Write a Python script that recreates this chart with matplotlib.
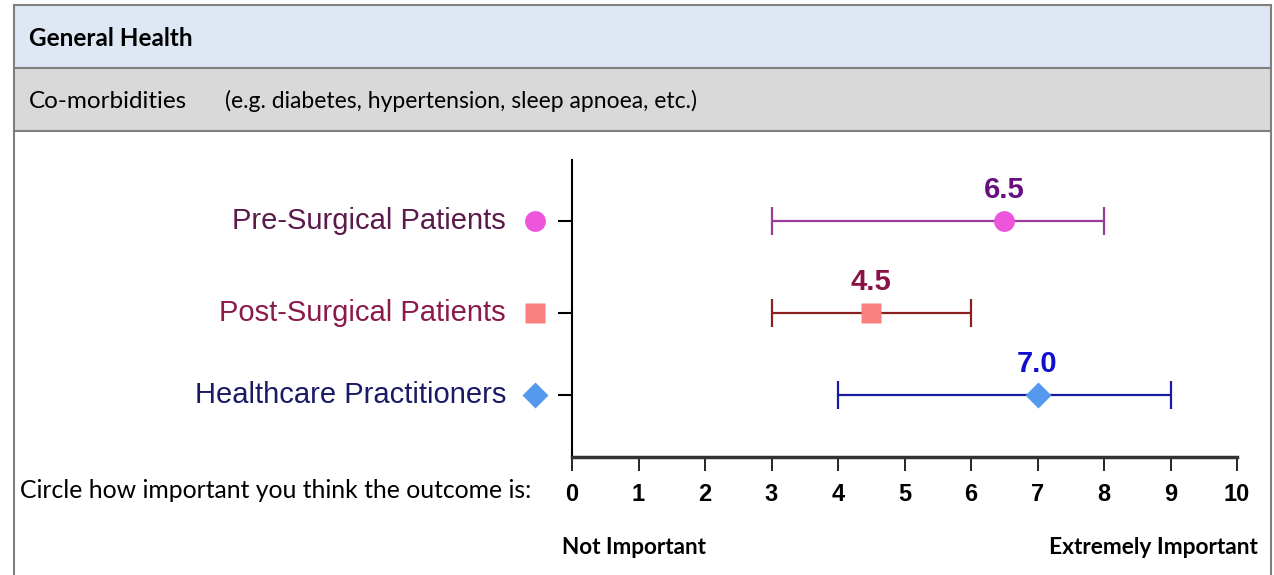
import matplotlib
matplotlib.use("Agg")
import matplotlib.pyplot as plt
from matplotlib.patches import Rectangle
from matplotlib.transforms import blended_transform_factory

# ---- data ----
groups = ["Pre-Surgical Patients", "Post-Surgical Patients", "Healthcare Practitioners"]
medians = [6.5, 4.5, 7.0]
lows = [3, 3, 4]
highs = [8, 6, 9]
value_labels = ["6.5", "4.5", "7.0"]
xticks = list(range(0, 11))

# ---- styles ----
row_pos = [0.795, 0.485, 0.209]
markers = ["o", "s", "D"]
marker_sizes = [15, 15, 13]
marker_colors = ["#EE55DD", "#F88080", "#5599EE"]
line_colors = ["#9A3A9A", "#8B2020", "#1A1AA0"]
label_colors = ["#5B1A4A", "#8B1A4A", "#1A1A66"]
value_colors = ["#66107F", "#8B1045", "#1010CC"]

W, H = 1274, 575
fig = plt.figure(figsize=(W / 100, H / 100), dpi=100)

def fx(px):
    return px / W

def fy(py):
    return 1 - py / H

# header bands
fig.patches.append(Rectangle((fx(14), fy(68)), fx(1271) - fx(14), fy(5) - fy(68),
                             transform=fig.transFigure, facecolor="#DEE8F4", edgecolor="none"))
fig.patches.append(Rectangle((fx(14), fy(131)), fx(1271) - fx(14), fy(68) - fy(131),
                             transform=fig.transFigure, facecolor="#D9D9D9", edgecolor="none"))
# border lines
lc = "#7F7F7F"
for (x0, y0, x1, y1) in [(14, 5, 1271, 5), (14, 68, 1271, 68), (14, 131, 1271, 131),
                         (14, 5, 14, 575), (1271, 5, 1271, 575)]:
    fig.add_artist(plt.Line2D([fx(x0), fx(x1)], [fy(y0), fy(y1)], transform=fig.transFigure,
                              color=lc, lw=1.5))

hfont = "Lato"
fig.text(fx(29), fy(38), "General Health", fontsize=17.5, fontweight="bold", family=hfont,
         va="center", ha="left", color="black")
fig.text(fx(29), fy(101), "Co-morbidities", fontsize=17.5, family=hfont, va="center", ha="left")
fig.text(fx(225), fy(101), "(e.g. diabetes, hypertension, sleep apnoea, etc.)", fontsize=16.5,
         family=hfont, va="center", ha="left")
fig.text(fx(20), fy(490), "Circle how important you think the outcome is:", fontsize=17.8,
         family=hfont, va="center", ha="left")
fig.text(fx(562), fy(548), "Not Important", fontsize=16.2, fontweight="bold", family=hfont,
         va="center", ha="left")
fig.text(fx(1258), fy(548), "Extremely Important", fontsize=16.4, fontweight="bold", family=hfont,
         va="center", ha="right")

# axes
ax = fig.add_axes([fx(572), fy(457), fx(1237) - fx(572), fy(160) - fy(457)])
ax.set_xlim(0, 10)
ax.set_ylim(0, 1)
ax.patch.set_alpha(0)
for s in ["top", "right"]:
    ax.spines[s].set_visible(False)
ax.spines["left"].set_linewidth(1.5)
ax.spines["bottom"].set_linewidth(2.5)
ax.spines["bottom"].set_color("#333333")

ax.set_xticks(xticks)
ax.set_xticklabels([str(t) for t in xticks], fontsize=17, fontweight="bold",
                   family="Liberation Sans")
ax.tick_params(axis="x", length=10, width=1.2, pad=9)
ax.set_yticks(row_pos)
ax.set_yticklabels([])
ax.tick_params(axis="y", length=10, width=1.5)

trans = blended_transform_factory(ax.transAxes, ax.transData)
for i, g in enumerate(groups):
    y = row_pos[i]
    m = medians[i]
    ax.errorbar([m], [y], xerr=[[m - lows[i]], [highs[i] - m]], fmt="none",
                ecolor=line_colors[i], elinewidth=1.6, capsize=10, capthick=1.6)
    ax.plot([m], [y], marker=markers[i], ms=marker_sizes[i], color=marker_colors[i],
            mec="none", ls="none", zorder=5)
    ax.annotate(value_labels[i], (m, y), xytext=(0, 22), textcoords="offset points",
                ha="center", va="center", fontsize=21, fontweight="bold",
                family="Liberation Sans", color=value_colors[i])
    ax.plot([-37 / 665], [y], transform=trans, marker=markers[i], ms=marker_sizes[i],
            color=marker_colors[i], mec="none", ls="none", clip_on=False)
    ax.text(-66 / 665, y, g, transform=trans, ha="right", va="center", fontsize=21,
            family="Liberation Sans", color=label_colors[i])

fig.savefig("out.png", dpi=100)
